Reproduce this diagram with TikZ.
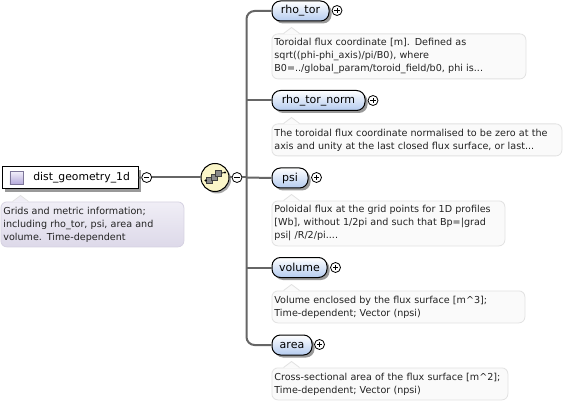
\documentclass[tikz,border=0pt]{standalone}
\usepackage{fontspec}
\setmainfont{DejaVu Sans}
\usetikzlibrary{shadows}
\definecolor{wire}{HTML}{666666}
\definecolor{descline}{HTML}{E2E2E2}
\definecolor{descfill}{HTML}{FAFAFA}
\definecolor{rootline}{HTML}{D6D2E2}
\definecolor{txt}{HTML}{222222}
\definecolor{RootTop}{HTML}{F0EEF6}
\definecolor{RootBot}{HTML}{DDD9E9}
\definecolor{ElemBot}{HTML}{B4CBEF}
\definecolor{IconTop}{HTML}{F2EFFA}
\definecolor{IconBot}{HTML}{B3A8DA}
\definecolor{LemonFill}{HTML}{FBF6C8}
\tikzset{
  x=1pt,y=-1pt,
  wireline/.style={draw=wire,line width=2pt},
  elem/.style={draw=black,line width=1pt,rounded corners=8.5pt,top color=white,bottom color=ElemBot,
    minimum height=20pt,inner sep=0pt,anchor=north west,text=black,font=\fontsize{11}{12}\selectfont,
    drop shadow={shadow xshift=2.5pt,shadow yshift=-2.5pt,fill=black,opacity=.4}},
  descbase/.style={line width=.8pt,rounded corners=6pt,anchor=north west,inner xsep=2.5pt,inner ysep=0pt,
    align=left,text=txt,font=\fontsize{9.6}{13}\selectfont},
  descbox/.style={descbase,draw=descline,fill=descfill},
  rootdesc/.style={descbase,draw=rootline,top color=RootTop,bottom color=RootBot},
  toggle/.style={circle,draw=black,line width=.8pt,fill=white,minimum size=10pt,inner sep=0pt},
  plusmark/.style={toggle,path picture={
     \draw[line width=.7pt] (path picture bounding box.center) +(-2.7,0) -- +(2.7,0)
       (path picture bounding box.center) +(0,-2.7) -- +(0,2.7);}},
  minusmark/.style={toggle,path picture={
     \draw[line width=.7pt] (path picture bounding box.center) +(-2.7,0) -- +(2.7,0);}},
  cube/.style={draw=black!75,line width=.5pt,fill=black!45,minimum size=6pt,inner sep=0pt},
}
\newcommand{\notch}[3]{%
  \path (#1.north west) ++(#2,0) coordinate (nm);
  \fill[#3] (nm) ++(-8,.9) -- ++(8,-6.9) -- ++(8,6.9) -- cycle;
  \draw[line width=.8pt,draw=descline] (nm) ++(-8,0) -- ++(8,-6) -- ++(8,6);
}
\begin{document}
\begin{tikzpicture}
\useasboundingbox (0,0) rectangle (569,403);
\fill[white] (0,0) rectangle (569,403);

% root
\node[draw=black,line width=1.2pt,fill=white,minimum width=136pt,minimum height=22pt,inner sep=0pt,anchor=north west,
  font=\fontsize{10.8}{12}\selectfont,text=black,
  drop shadow={shadow xshift=3pt,shadow yshift=-3pt,fill=black,opacity=.4}] (root) at (1.5,166) {\hspace*{23pt}dist\_geometry\_1d};
\node[draw=IconBot!70!black,line width=.8pt,top color=IconTop,bottom color=IconBot,minimum size=13pt,inner sep=0pt,anchor=north west] (rooticon) at (9.5,171) {};
\node[minusmark] (m1) at (146.7,177.5) {};
\node[circle,draw=black,line width=1pt,fill=LemonFill,minimum size=28pt,inner sep=0pt,
  drop shadow={shadow xshift=2pt,shadow yshift=-2pt,fill=black,opacity=.35}] (choice) at (215,177.5) {};
\node[minusmark] (m2) at (237,177.5) {};
\coordinate (trunk) at (246.5,177.5);

% children
\node[elem,minimum width=57pt] (e1) at (271.5,0.5) {rho\_tor};
\node[elem,minimum width=93pt] (e2) at (271.5,90) {rho\_tor\_norm};
\node[elem,minimum width=36pt] (e3) at (271.5,167.5) {psi};
\node[elem,minimum width=55pt] (e4) at (271.5,257) {volume};
\node[elem,minimum width=40pt] (e5) at (271.5,334.5) {area};
\node[plusmark] (p1) at (337,10.5) {};
\node[plusmark] (p2) at (373,100.5) {};
\node[plusmark] (p3) at (316.5,177.5) {};
\node[plusmark] (p4) at (335.5,267.5) {};
\node[plusmark] (p5) at (319.5,344.5) {};

% wires
\draw[wireline] (root.east) -- (m1);
\draw[wireline] (m1) -- (choice);
\draw[wireline] (choice) -- (m2);
\draw[wireline] (m2) -- (trunk);
\draw[wireline,rounded corners=8pt] (e1.west) -| (trunk) |- (e5.west);
\draw[wireline] (trunk) -- (e3.west);
\draw[wireline] (trunk |- e2.west) -- (e2.west);
\draw[wireline] (trunk |- e4.west) -- (e4.west);

% choice icon
\coordinate (il) at (205.5,180.5);
\coordinate (ir) at (225,172.5);
\node[cube] (c1) at (209.5,180.5) {};
\node[cube] (c2) at (214.5,177.5) {};
\node[cube] (c3) at (218.5,173.5) {};
\fill (il) circle (1.2);
\fill (ir) circle (1.2);
\draw[line width=.8pt] (il) -- (c1);
\draw[line width=.8pt] (c3) -- (ir);

% descriptions
\node[rootdesc,text width=178pt,minimum height=45pt] (d0) at (0.5,201.5)
 {Grids and metric information;\\including rho\_tor, psi, area and\\volume. Time-dependent};
\notch{d0}{20}{RootTop}
\node[descbox,text width=249pt,minimum height=45pt] (d1) at (271.5,33.5)
 {Toroidal flux coordinate [m]. Defined as\\sqrt((phi-phi\_axis)/pi/B0), where\\B0=../global\_param/toroid\_field/b0, phi is...};
\notch{d1}{20}{descfill}
\node[descbox,text width=285pt,minimum height=32pt] (d2) at (271.5,123.5)
 {The toroidal flux coordinate normalised to be zero at the\\axis and unity at the last closed flux surface, or last...};
\notch{d2}{20}{descfill}
\node[descbox,text width=228pt,minimum height=45pt] (d3) at (271.5,200.5)
 {Poloidal flux at the grid points for 1D profiles\\{[Wb]}, without 1/2pi and such that Bp=|grad\\psi| /R/2/pi....};
\notch{d3}{20}{descfill}
\node[descbox,text width=248pt,minimum height=32pt] (d4) at (271.5,290.5)
 {Volume enclosed by the flux surface [m\textasciicircum 3];\\Time-dependent; Vector (npsi)};
\notch{d4}{20}{descfill}
\node[descbox,text width=231pt,minimum height=32pt] (d5) at (271.5,367.5)
 {Cross-sectional area of the flux surface [m\textasciicircum 2];\\Time-dependent; Vector (npsi)};
\notch{d5}{20}{descfill}
\end{tikzpicture}
\end{document}
